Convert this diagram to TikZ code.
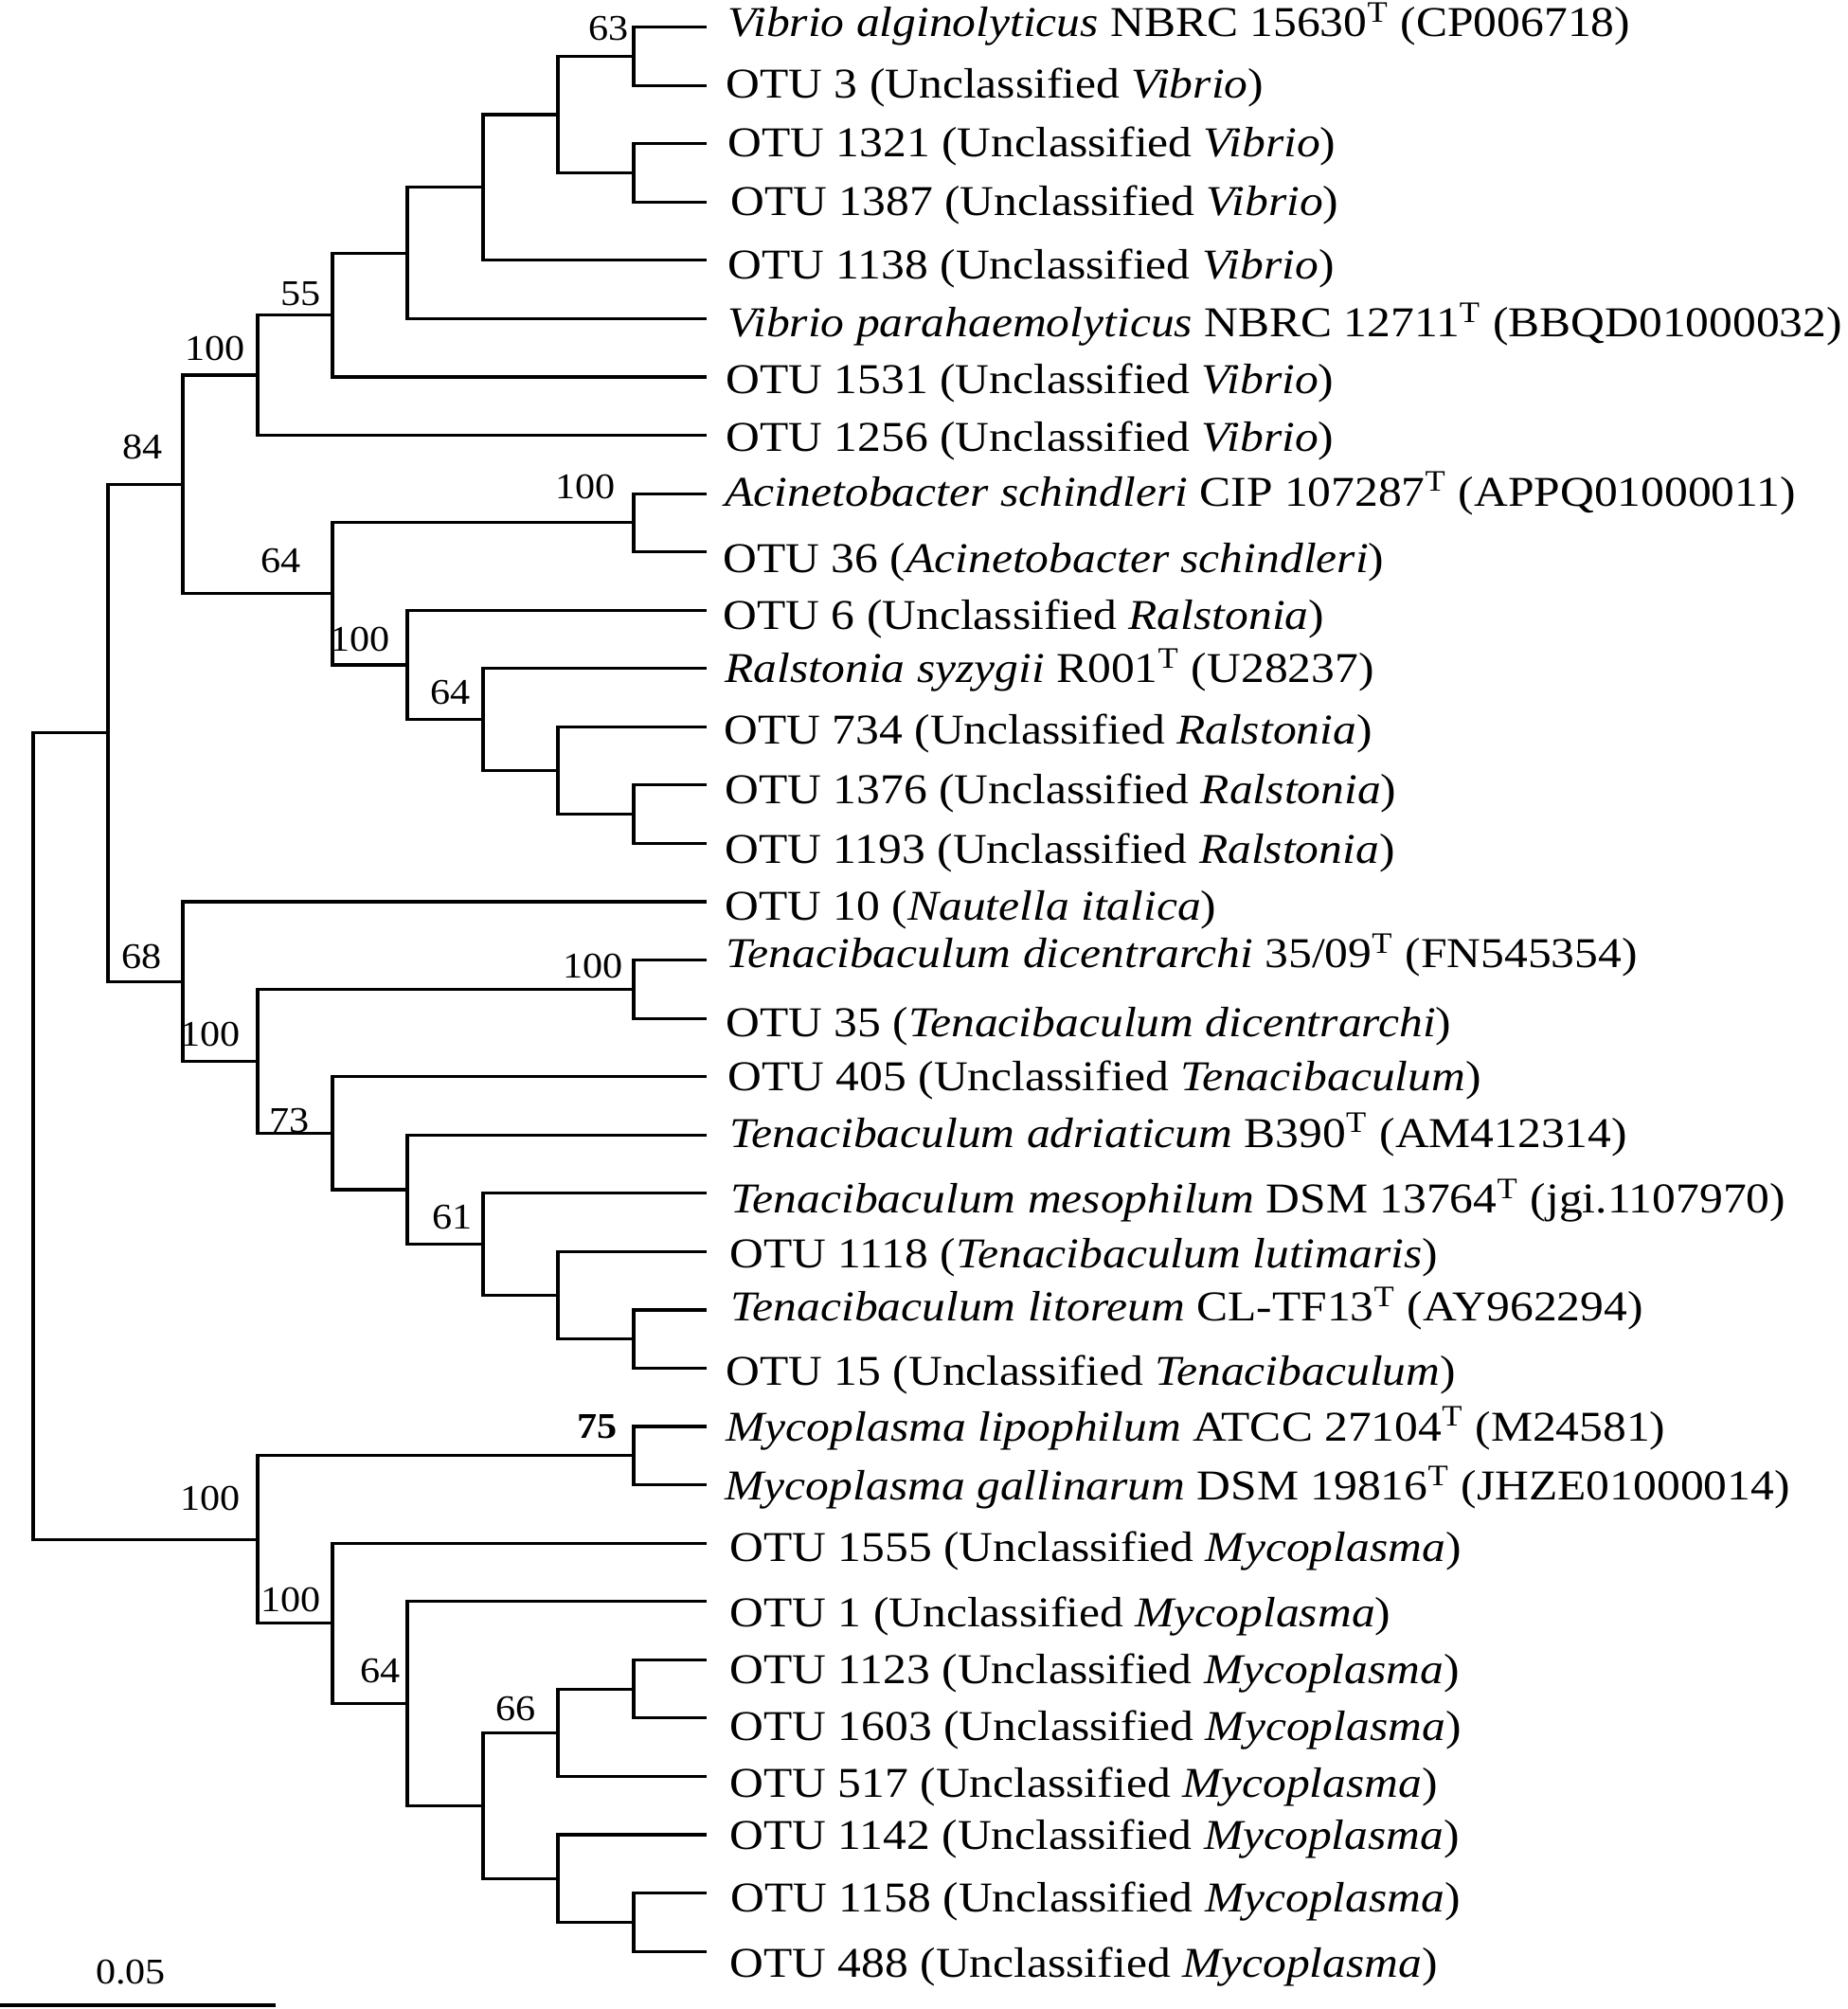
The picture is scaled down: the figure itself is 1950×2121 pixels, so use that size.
\documentclass[tikz,border=0pt]{standalone}
\usepackage{fontspec}
\setmainfont{Liberation Serif}[FakeStretch=1.105]
\usetikzlibrary{calc}

\begin{document}
\begin{tikzpicture}[x=0.01cm, y=-0.01cm,
    branch/.style={line width=0.9pt},
    tip/.style={anchor=base west, inner sep=0pt, font=\fontsize{12.75}{15}\selectfont},
    boot/.style={anchor=base east, inner sep=0pt, font=\fontsize{10.85}{13}\selectfont}]
    \useasboundingbox (0,0) rectangle (1950,2121);

    % Taxa: number/x offset/y offset/label
    \foreach \i/\dx/\dy/\txt in {
        1/22/10/{\textit{Vibrio alginolyticus} NBRC 15630\textsuperscript{T} (CP006718)},
        2/20/13/{OTU 3 (Unclassified \textit{Vibrio})},
        3/22/14/{OTU 1321 (Unclassified \textit{Vibrio})},
        4/25/14/{OTU 1387 (Unclassified \textit{Vibrio})},
        5/22/20/{OTU 1138 (Unclassified \textit{Vibrio})},
        6/22/19/{\textit{Vibrio parahaemolyticus} NBRC 12711\textsuperscript{T} (BBQD01000032)},
        7/20/18/{OTU 1531 (Unclassified \textit{Vibrio})},
        8/20/17/{OTU 1256 (Unclassified \textit{Vibrio})},
        9/19/13/{\textit{Acinetobacter schindleri} CIP 107287\textsuperscript{T} (APPQ01000011)},
        10/17/22/{OTU 36 (\textit{Acinetobacter schindleri})},
        11/17/20/{OTU 6 (Unclassified \textit{Ralstonia})},
        12/19/15/{\textit{Ralstonia syzygii} R001\textsuperscript{T} (U28237)},
        13/18/18/{OTU 734 (Unclassified \textit{Ralstonia})},
        14/19/20/{OTU 1376 (Unclassified \textit{Ralstonia})},
        15/19/21/{OTU 1193 (Unclassified \textit{Ralstonia})},
        16/19/19/{OTU 10 (\textit{Nautella italica})},
        17/20/8/{\textit{Tenacibaculum dicentrarchi} 35/09\textsuperscript{T} (FN545354)},
        18/20/19/{OTU 35 (\textit{Tenacibaculum dicentrarchi})},
        19/22/15/{OTU 405 (Unclassified \textit{Tenacibaculum})},
        20/24/13/{\textit{Tenacibaculum adriaticum} B390\textsuperscript{T} (AM412314)},
        21/25/21/{\textit{Tenacibaculum mesophilum} DSM 13764\textsuperscript{T} (jgi.1107970)},
        22/24/17/{OTU 1118 (\textit{Tenacibaculum lutimaris})},
        23/25/12/{\textit{Tenacibaculum litoreum} CL-TF13\textsuperscript{T} (AY962294)},
        24/20/18/{OTU 15 (Unclassified \textit{Tenacibaculum})},
        25/20/15/{\textit{Mycoplasma lipophilum} ATCC 27104\textsuperscript{T} (M24581)},
        26/19/16/{\textit{Mycoplasma gallinarum} DSM 19816\textsuperscript{T} (JHZE01000014)},
        27/24/19/{OTU 1555 (Unclassified \textit{Mycoplasma})},
        28/24/27/{OTU 1 (Unclassified \textit{Mycoplasma})},
        29/24/25/{OTU 1123 (Unclassified \textit{Mycoplasma})},
        30/24/24/{OTU 1603 (Unclassified \textit{Mycoplasma})},
        31/24/22/{OTU 517 (Unclassified \textit{Mycoplasma})},
        32/24/16/{OTU 1142 (Unclassified \textit{Mycoplasma})},
        33/25/20/{OTU 1158 (Unclassified \textit{Mycoplasma})},
        34/24/27/{OTU 488 (Unclassified \textit{Mycoplasma})}} {
        \coordinate (lf\i) at (746, {28.6+(\i-1)*61.56});
        \node[tip] (t\i) at ([shift={(\dx,\dy)}]lf\i) {\txt};
    }

    % x positions of the node levels
    \foreach \k/\x in {0/35, 1/114, 2/193, 3/272, 4/351, 5/430, 6/510, 7/589, 8/669}
        \coordinate (L\k) at (\x,0);

    % Clades: name/level/upper child/lower child
    \foreach \c/\k/\a/\b in {
        n63/8/lf1/lf2, nV4/8/lf3/lf4, nV3/7/n63/nV4, nV2/6/nV3/lf5, nV1/5/nV2/lf6,
        n55/4/nV1/lf7, nV100/3/n55/lf8,
        nAc/8/lf9/lf10, nR3/8/lf14/lf15, nR2/7/lf13/nR3, nR64/6/lf12/nR2,
        nR100/5/lf11/nR64, n64a/4/nAc/nR100, n84/2/nV100/n64a,
        nTd/8/lf17/lf18, nT4/8/lf23/lf24, nT3/7/lf22/nT4, n61/6/lf21/nT3,
        nT2/5/lf20/n61, n73/4/lf19/nT2, nT100/3/nTd/n73, n68/2/lf16/nT100,
        nUp/1/n84/n68,
        n75/8/lf25/lf26, nM6/8/lf29/lf30, n66/7/nM6/lf31, nM7/8/lf33/lf34,
        nM5/7/lf32/nM7, nM4/6/n66/nM5, nM64/5/lf28/nM4, nM100b/4/lf27/nM64,
        nM100a/3/n75/nM100b,
        root/0/nUp/nM100a} {
        \coordinate (mid) at ($(\a)!0.5!(\b)$);
        \coordinate (\c) at (mid -| L\k);
        \draw[branch] (\a) -| (\c) |- (\b);
    }

    % Bootstrap values
    \foreach \c/\v/\dx/\dy in {
        n63/63/-5/-17, n55/55/-12/-10, nV100/100/-13/-16, n84/84/-21/-27,
        nAc/100/-19/-25, n64a/64/-33/-22, nR100/100/-18/-14, nR64/64/-13/-16,
        n68/68/-22/-14, nTd/100/-11/-12, nT100/100/-18/-16, n73/73/-24/-1,
        n61/61/-11/-16, nM100a/100/-18/-31, nM100b/100/-12/-12,
        nM64/64/-7/-22, n66/66/-23/-13}
        \node[boot] (s\c) at ([shift={(\dx,\dy)}]\c) {\v};
    \node[boot, font=\fontsize{10.85}{13}\selectfont\bfseries] (sn75) at ([shift={(-17,-18)}]n75) {75};

    % Scale bar
    \coordinate (sb0) at (0,2117);
    \coordinate (sb1) at (291,2117);
    \draw[branch] (sb0) -- (sb1);
    \node[boot, anchor=base] (sbl) at (138,2094) {0.05};
\end{tikzpicture}
\end{document}
